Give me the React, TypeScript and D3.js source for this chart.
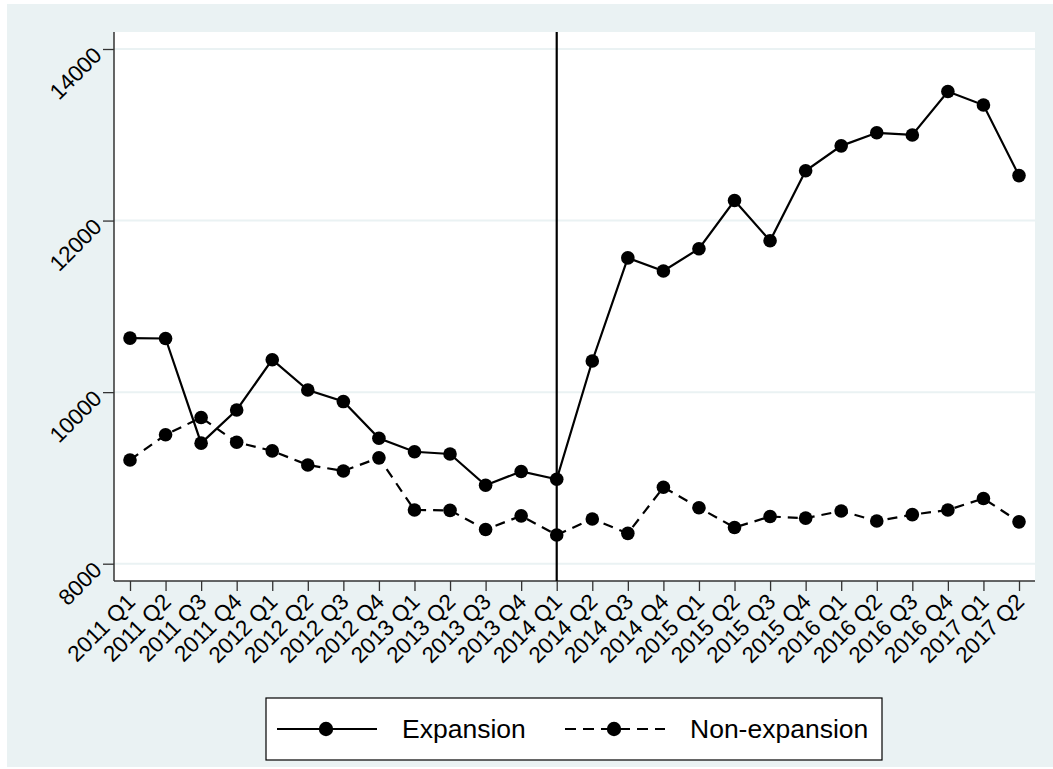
import * as d3 from 'd3';
import { useEffect, useRef } from 'react';

const quarters = [
  '2011 Q1', '2011 Q2', '2011 Q3', '2011 Q4',
  '2012 Q1', '2012 Q2', '2012 Q3', '2012 Q4',
  '2013 Q1', '2013 Q2', '2013 Q3', '2013 Q4',
  '2014 Q1', '2014 Q2', '2014 Q3', '2014 Q4',
  '2015 Q1', '2015 Q2', '2015 Q3', '2015 Q4',
  '2016 Q1', '2016 Q2', '2016 Q3', '2016 Q4',
  '2017 Q1', '2017 Q2',
];

const expansion = [
  10630, 10625, 9405, 9792, 10378, 10025, 9890, 9463, 9305, 9279, 8915, 9075,
  8985, 10363, 11565, 11412, 11672, 12234, 11765, 12580, 12871, 13023, 12998, 13505,
  13347, 12524,
];

const nonExpansion = [
  9209, 9503, 9704, 9415, 9315, 9151, 9081, 9234, 8626, 8622, 8398, 8558,
  8335, 8521, 8354, 8891, 8653, 8422, 8550, 8531, 8614, 8498, 8572, 8626,
  8760, 8488,
];

const yTicks = [8000, 10000, 12000, 14000];
const policyQuarter = '2014 Q1';

const legendItems = [
  { label: 'Expansion', dash: null as string | null },
  { label: 'Non-expansion', dash: '11 7' },
];

export default function App() {
  const ref = useRef<SVGSVGElement | null>(null);

  useEffect(() => {
    if (!ref.current) return;
    const svg = d3.select(ref.current);
    svg.selectAll('*').remove();

    const W = 1053;
    const H = 769;
    const font = '"Liberation Sans", Arial, sans-serif';
    const tickFs = 22.5;
    const bg = '#eaf2f3';

    svg.append('rect').attr('width', W).attr('height', H).attr('fill', '#fff');
    svg.append('rect').attr('x', 7).attr('y', 4).attr('width', W - 7).attr('height', 763).attr('fill', bg);

    const plot = { left: 114, right: 1035, top: 32, bottom: 581 };
    svg
      .append('rect')
      .attr('x', plot.left)
      .attr('y', plot.top)
      .attr('width', plot.right - plot.left)
      .attr('height', plot.bottom - plot.top)
      .attr('fill', '#fff');

    const x = d3.scalePoint<string>().domain(quarters).range([130, 1019]);
    const y = d3.scaleLinear().domain([8000, 14000]).range([563.7, 49]);

    // grid
    svg
      .append('g')
      .selectAll('line')
      .data(yTicks)
      .join('line')
      .attr('x1', plot.left)
      .attr('x2', plot.right)
      .attr('y1', (d) => y(d))
      .attr('y2', (d) => y(d))
      .attr('stroke', bg)
      .attr('stroke-width', 2);

    // y axis
    const yAxis = svg
      .append('g')
      .attr('transform', `translate(${plot.left},0)`)
      .call(d3.axisLeft(y).tickValues(yTicks).tickSize(11).tickSizeOuter(0).tickFormat(d3.format('d')));
    yAxis.select('.domain').attr('d', `M0,${plot.top}V${plot.bottom}`).attr('stroke', '#333').attr('stroke-width', 1.5);
    yAxis.selectAll('.tick line').attr('stroke', '#333').attr('stroke-width', 1.3);
    yAxis
      .selectAll('.tick text')
      .attr('font-family', font)
      .attr('font-size', tickFs)
      .attr('fill', '#000')
      .attr('x', null)
      .attr('dy', null)
      .attr('text-anchor', 'end')
      .attr('dominant-baseline', 'middle')
      .attr('transform', 'translate(-15,3) rotate(-45)');

    // x axis
    const xAxis = svg
      .append('g')
      .attr('transform', `translate(0,${plot.bottom})`)
      .call(d3.axisBottom(x).tickSize(10).tickSizeOuter(0));
    xAxis.select('.domain').attr('d', `M${plot.left},0H${plot.right}`).attr('stroke', '#333').attr('stroke-width', 1.5);
    xAxis.selectAll('.tick line').attr('stroke', '#333').attr('stroke-width', 1.3);
    xAxis
      .selectAll('.tick text')
      .attr('font-family', font)
      .attr('font-size', tickFs)
      .attr('fill', '#000')
      .attr('y', null)
      .attr('dy', null)
      .attr('text-anchor', 'end')
      .attr('dominant-baseline', 'middle')
      .attr('transform', 'translate(2,18) rotate(-45)');

    // vertical reference line
    svg
      .append('line')
      .attr('x1', x(policyQuarter)!)
      .attr('x2', x(policyQuarter)!)
      .attr('y1', plot.top)
      .attr('y2', plot.bottom)
      .attr('stroke', '#000')
      .attr('stroke-width', 2.2);

    const line = d3
      .line<number>()
      .x((_, i) => x(quarters[i])!)
      .y((d) => y(d));

    const series = [
      { values: expansion, dash: null as string | null },
      { values: nonExpansion, dash: '10 7' },
    ];

    series.forEach((s) => {
      svg
        .append('path')
        .attr('d', line(s.values) || '')
        .attr('fill', 'none')
        .attr('stroke', '#000')
        .attr('stroke-width', 2.2)
        .attr('stroke-dasharray', s.dash);
      svg
        .append('g')
        .selectAll('circle')
        .data(s.values)
        .join('circle')
        .attr('cx', (_, i) => x(quarters[i])!)
        .attr('cy', (d) => y(d))
        .attr('r', 6.8)
        .attr('fill', '#000');
    });

    // legend
    const lg = svg.append('g');
    lg.append('rect')
      .attr('x', 266)
      .attr('y', 698)
      .attr('width', 616)
      .attr('height', 62)
      .attr('fill', '#fff')
      .attr('stroke', '#000')
      .attr('stroke-width', 1.2);
    const keyX = [277, 565];
    const textX = [402, 690];
    const ly = 729;
    legendItems.forEach((item, i) => {
      lg.append('line')
        .attr('x1', keyX[i])
        .attr('x2', keyX[i] + 100)
        .attr('y1', ly)
        .attr('y2', ly)
        .attr('stroke', '#000')
        .attr('stroke-width', 2.2)
        .attr('stroke-dasharray', item.dash);
      lg.append('circle').attr('cx', keyX[i] + 49).attr('cy', ly).attr('r', 7.2).attr('fill', '#000');
      lg.append('text')
        .attr('x', textX[i])
        .attr('y', ly)
        .attr('dominant-baseline', 'central')
        .attr('font-family', font)
        .attr('font-size', 26.5)
        .attr('fill', '#000')
        .text(item.label);
    });
  }, []);

  return (
    <svg
      ref={ref}
      width={1053}
      height={769}
      style={{ position: 'absolute', left: 0, top: 0, display: 'block' }}
    />
  );
}
